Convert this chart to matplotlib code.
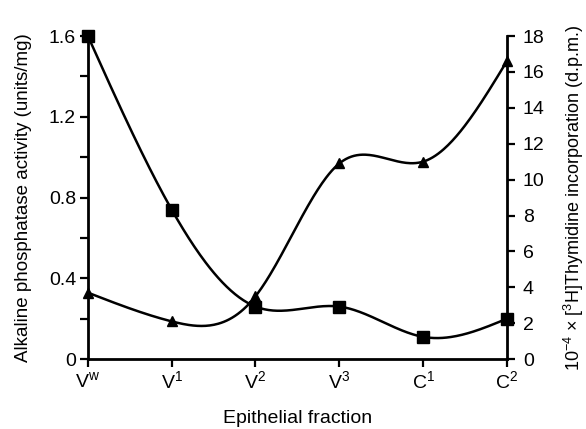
import numpy as np
import matplotlib

matplotlib.use("Agg")
import matplotlib.pyplot as plt

plt.rcParams["font.family"] = ["Liberation Sans", "DejaVu Sans"]
plt.rcParams["mathtext.fontset"] = "custom"
plt.rcParams["mathtext.rm"] = "Liberation Sans"

fractions = [r"V$^{\mathrm{w}}$", r"V$^{1}$", r"V$^{2}$", r"V$^{3}$", r"C$^{1}$", r"C$^{2}$"]
phosphatase = [1.60, 0.74, 0.26, 0.26, 0.11, 0.20]   # squares, left axis
thymidine = [3.7, 2.1, 3.5, 10.9, 11.0, 16.6]        # triangles, right axis


def natural_spline(y, n=300):
    """Natural cubic spline through equally spaced points, for the drawn curve."""
    y = np.asarray(y, float)
    k = len(y)
    a = np.zeros((k, k))
    b = np.zeros(k)
    a[0, 0] = a[-1, -1] = 1.0
    for i in range(1, k - 1):
        a[i, i - 1], a[i, i], a[i, i + 1] = 1.0, 4.0, 1.0
        b[i] = 6.0 * (y[i + 1] - 2 * y[i] + y[i - 1])
    m = np.linalg.solve(a, b)
    xs = np.linspace(0, k - 1, n)
    idx = np.clip(np.floor(xs).astype(int), 0, k - 2)
    t = xs - idx
    ys = ((1 - t) * y[idx] + t * y[idx + 1]
          + ((1 - t) ** 3 - (1 - t)) * m[idx] / 6.0
          + (t ** 3 - t) * m[idx + 1] / 6.0)
    return xs, ys


x = np.arange(len(fractions))

fig = plt.figure(figsize=(5.86, 4.29), dpi=100)
ax = fig.add_axes([0.150, 0.163, 0.715, 0.753])
ax2 = ax.twinx()

xs, ys = natural_spline(phosphatase)
ax.plot(xs, ys, color="black", lw=1.8)
ax.plot(x, phosphatase, ls="none", marker="s", ms=8, color="black", clip_on=False, zorder=5)

xs, ys = natural_spline(thymidine)
ax2.plot(xs, ys, color="black", lw=1.8)
ax2.plot(x, thymidine, ls="none", marker="^", ms=7.5, color="black", clip_on=False, zorder=5)

ax.set_xlim(0, len(fractions) - 1)
ax.set_ylim(0, 1.6)
ax2.set_ylim(0, 18)
ax.set_xticks(x)
ax.set_xticklabels(fractions)
ax.set_yticks([0, 0.4, 0.8, 1.2, 1.6])
ax.set_yticklabels(["0", "0.4", "0.8", "1.2", "1.6"])
ax.set_yticks([0.2, 0.6, 1.0, 1.4], minor=True)
ax2.set_yticks(range(0, 19, 2))

for a in (ax, ax2):
    a.spines["top"].set_visible(False)
    for s in ("left", "right", "bottom"):
        a.spines[s].set_linewidth(2.0)
    a.tick_params(which="both", direction="out", width=1.6, length=5.5, labelsize=14, pad=3)
ax2.tick_params(axis="y", pad=6)
ax.spines["right"].set_visible(False)
ax2.spines["left"].set_visible(False)
ax2.spines["bottom"].set_visible(False)

ax.set_ylabel("Alkaline phosphatase activity (units/mg)", fontsize=13.5, labelpad=12)
ax2.set_ylabel(r"10$^{-4}$ × [$^{3}$H]Thymidine incorporation (d.p.m.)", fontsize=13, labelpad=12)
ax.set_xlabel("Epithelial fraction", fontsize=14, labelpad=12)

fig.savefig("out.png", dpi=100, facecolor="white")
